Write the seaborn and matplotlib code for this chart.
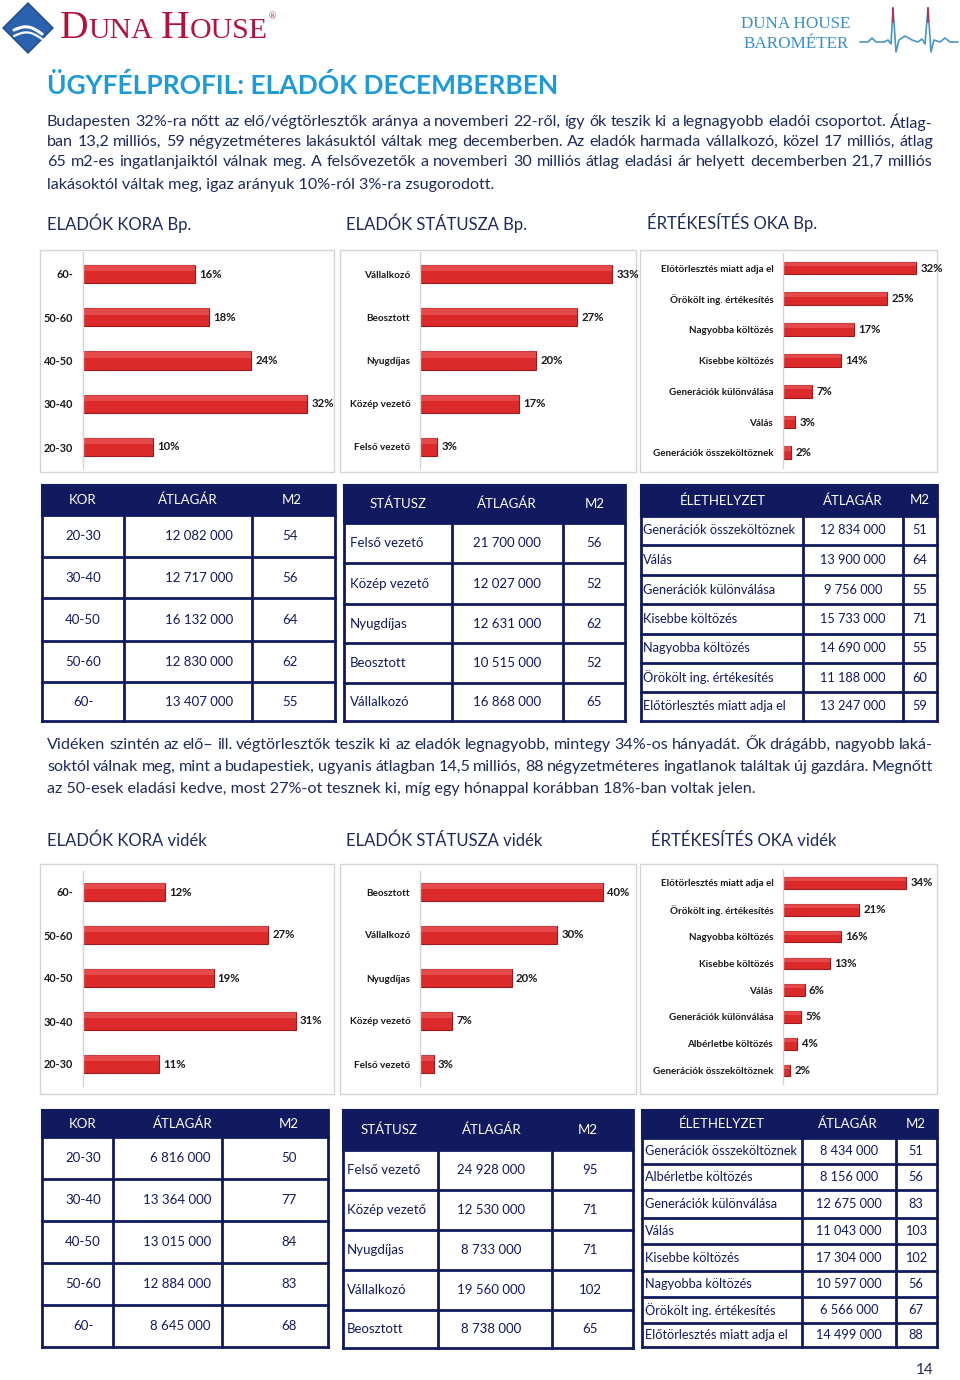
import numpy as np
import pandas as pd
import matplotlib
matplotlib.use("Agg")
import matplotlib.pyplot as plt
import seaborn as sns
from matplotlib.patches import Rectangle, Polygon

# ---- adatok: diagramok ----
kor_cats = ["60-", "50-60", "40-50", "30-40", "20-30"]
kor_bp = [16, 18, 24, 32, 10]
kor_videk = [12, 27, 19, 31, 11]

statusz_bp_cats = ["Vállalkozó", "Beosztott", "Nyugdíjas", "Közép vezető", "Felső vezető"]
statusz_bp = [33, 27, 20, 17, 3]
statusz_videk_cats = ["Beosztott", "Vállalkozó", "Nyugdíjas", "Közép vezető", "Felső vezető"]
statusz_videk = [40, 30, 20, 7, 3]

ok_bp_cats = ["Előtörlesztés miatt adja el", "Örökölt ing. értékesítés", "Nagyobba költözés",
              "Kisebbe költözés", "Generációk különválása", "Válás", "Generációk összeköltöznek"]
ok_bp = [32, 25, 17, 14, 7, 3, 2]
ok_videk_cats = ["Előtörlesztés miatt adja el", "Örökölt ing. értékesítés", "Nagyobba költözés",
                 "Kisebbe költözés", "Válás", "Generációk különválása", "Albérletbe költözés",
                 "Generációk összeköltöznek"]
ok_videk = [34, 21, 16, 13, 6, 5, 4, 2]

# ---- adatok: táblázatok ----
tab_kor_rows = ["20-30", "30-40", "40-50", "50-60", "60-"]
tab_kor_bp_ar = ["12 082 000", "12 717 000", "16 132 000", "12 830 000", "13 407 000"]
tab_kor_bp_m2 = ["54", "56", "64", "62", "55"]
tab_kor_videk_ar = ["6 816 000", "13 364 000", "13 015 000", "12 884 000", "8 645 000"]
tab_kor_videk_m2 = ["50", "77", "84", "83", "68"]

tab_stat_bp_rows = ["Felső vezető", "Közép vezető", "Nyugdíjas", "Beosztott", "Vállalkozó"]
tab_stat_bp_ar = ["21 700 000", "12 027 000", "12 631 000", "10 515 000", "16 868 000"]
tab_stat_bp_m2 = ["56", "52", "62", "52", "65"]
tab_stat_videk_rows = ["Felső vezető", "Közép vezető", "Nyugdíjas", "Vállalkozó", "Beosztott"]
tab_stat_videk_ar = ["24 928 000", "12 530 000", "8 733 000", "19 560 000", "8 738 000"]
tab_stat_videk_m2 = ["95", "71", "71", "102", "65"]

tab_elet_bp_rows = ["Generációk összeköltöznek", "Válás", "Generációk különválása", "Kisebbe költözés",
                    "Nagyobba költözés", "Örökölt ing. értékesítés", "Előtörlesztés miatt adja el"]
tab_elet_bp_ar = ["12 834 000", "13 900 000", "9 756 000", "15 733 000", "14 690 000", "11 188 000", "13 247 000"]
tab_elet_bp_m2 = ["51", "64", "55", "71", "55", "60", "59"]
tab_elet_videk_rows = ["Generációk összeköltöznek", "Albérletbe költözés", "Generációk különválása", "Válás",
                       "Kisebbe költözés", "Nagyobba költözés", "Örökölt ing. értékesítés",
                       "Előtörlesztés miatt adja el"]
tab_elet_videk_ar = ["8 434 000", "8 156 000", "12 675 000", "11 043 000", "17 304 000", "10 597 000",
                     "6 566 000", "14 499 000"]
tab_elet_videk_m2 = ["51", "56", "83", "103", "102", "56", "67", "88"]

# ---- szövegek ----
bekezdes1 = [
    "Budapesten 32%-ra nőtt az elő/végtörlesztők aránya a novemberi 22-ről, így ők teszik ki a legnagyobb eladói csoportot. Átlag-",
    "ban 13,2 milliós, 59 négyzetméteres lakásuktól váltak meg decemberben. Az eladók harmada vállalkozó, közel 17 milliós, átlag",
    "65 m2-es ingatlanjaiktól válnak meg. A felsővezetők a novemberi 30 milliós átlag eladási ár helyett decemberben 21,7 milliós",
    "lakásoktól váltak meg, igaz arányuk 10%-ról 3%-ra zsugorodott.",
]
bekezdes2 = [
    "Vidéken szintén az elő– ill. végtörlesztők teszik ki az eladók legnagyobb, mintegy 34%-os hányadát. Ők drágább, nagyobb laká-",
    "soktól válnak meg, mint a budapestiek, ugyanis átlagban 14,5 milliós, 88 négyzetméteres ingatlanok találtak új gazdára. Megnőtt",
    "az 50-esek eladási kedve, most 27%-ot tesznek ki, míg egy hónappal korábban 18%-ban voltak jelen.",
]

NAVY = "#111a5e"
TEXT = "#1e2a5c"
BAR = "#dc2a2b"
BAR_EDGE = "#9c1a1c"
BAR_LIGHT = "#f06464"
BOX = "#d4d4d4"

sns.set_style("white")
plt.rcParams["font.family"] = ["Lato", "DejaVu Sans"]

W, H = 960, 1380
fig = plt.figure(figsize=(9.6, 13.8), dpi=100)

bg = fig.add_axes([0, 0, 1, 1])
bg.set_xlim(0, W)
bg.set_ylim(H, 0)
bg.axis("off")

renderer = fig.canvas.get_renderer()


def px_axes(x, y, w, h):
    return fig.add_axes([x / W, 1 - (y + h) / H, w / W, h / H])


def text_w(s, **kw):
    t = bg.text(0, 0, s, **kw)
    w = t.get_window_extent(renderer).width
    t.remove()
    return w


def justified(lines, ys, x0, x1, size, color):
    for i, (line, y) in enumerate(zip(lines, ys)):
        if i == len(lines) - 1:
            bg.text(x0, y, line, fontsize=size, color=color, va="center")
            continue
        words = line.split(" ")
        widths = [text_w(w, fontsize=size) for w in words]
        gap = (x1 - x0 - sum(widths)) / (len(words) - 1)
        x = x0
        for w, wd in zip(words, widths):
            bg.text(x, y, w, fontsize=size, color=color, va="center")
            x += wd + gap


# ---- fejléc ----
bg.add_patch(Polygon([(28, 3), (53, 28), (28, 53), (3, 28)], closed=True,
                     facecolor="#2a62ad", edgecolor="#1c4a8a", lw=1))
t = np.linspace(0, 1, 50)
bg.plot(14 + 28 * t, 30 - 5 * np.sin(np.pi * t) + 4 * t, color="white", lw=2.2)
bg.plot(14 + 28 * t, 36 - 5 * np.sin(np.pi * t) + 3 * t, color="white", lw=1.6)

x = 60
for s, size in [("D", 28.5), ("UNA", 21.5), (" ", 21.5), ("H", 28.5), ("OUSE", 21.5)]:
    bg.text(x, 38, s, fontsize=size, color="#b3123f", family="Liberation Serif", va="baseline")
    x += text_w(s, fontsize=size, family="Liberation Serif")
bg.text(x + 1, 19, "®", fontsize=7, color="#b3123f", family="Liberation Serif", va="baseline")

bg.text(741, 24, "DUNA HOUSE", fontsize=12.3, color="#3b8fc6", family="Liberation Serif", va="center")
bg.text(744, 44, "BAROMÉTER", fontsize=12.3, color="#3b8fc6", family="Liberation Serif", va="center")
hb_x = [860, 868, 872, 876, 884, 888, 891, 893, 896, 899, 905, 912, 918, 922, 925, 928, 931, 934, 940, 945, 950, 958]
hb_y = [42, 42, 38, 42, 42, 40, 44, 8, 52, 40, 36, 40, 42, 39, 44, 8, 52, 40, 42, 38, 42, 42]
bg.plot(hb_x, hb_y, color="#4a95c4", lw=1.2)
bg.plot([893, 893], [8, 22], color="#c0304a", lw=1.4)
bg.plot([928, 928], [8, 22], color="#c0304a", lw=1.4)

bg.text(47, 86, "ÜGYFÉLPROFIL: ELADÓK DECEMBERBEN", fontsize=19, fontweight="bold",
        color="#1e9ad8", va="center")

justified(bekezdes1, [122, 142, 162, 185], 47, 933, 11.6, TEXT)
justified(bekezdes2, [745, 767, 789], 47, 933, 11.6, TEXT)

for (s, xx, yy) in [("ELADÓK KORA Bp.", 47, 223), ("ELADÓK STÁTUSZA Bp.", 346, 223),
                    ("ÉRTÉKESÍTÉS OKA Bp.", 647, 223), ("ELADÓK KORA vidék", 47, 841),
                    ("ELADÓK STÁTUSZA vidék", 346, 841), ("ÉRTÉKESÍTÉS OKA vidék", 651, 841)]:
    bg.text(xx, yy, s, fontsize=12, color=TEXT, va="center")

# diagram keretek
for (x0, y0, x1, y1) in [(40, 250, 334, 472), (340, 250, 636, 472), (640, 250, 937, 472),
                         (40, 864, 334, 1094), (340, 864, 636, 1094), (640, 864, 937, 1094)]:
    bg.add_patch(Rectangle((x0, y0), x1 - x0, y1 - y0, facecolor="none", edgecolor=BOX, lw=1))


def bar_panel(cats, vals, axis_x, y_first, step, ppu, right, cat_size, width=0.42):
    n = len(cats)
    ax = px_axes(axis_x, y_first - step / 2, right - axis_x, n * step)
    df = pd.DataFrame({"kat": cats, "ertek": vals})
    sns.barplot(data=df, x="ertek", y="kat", orient="h", color=BAR, edgecolor=BAR_EDGE,
                linewidth=0.8, width=width, saturation=1, errorbar=None, ax=ax)
    # fényesebb felső sáv a domború hatáshoz
    for p in list(ax.patches):
        ax.add_patch(Rectangle((p.get_x(), p.get_y()), p.get_width(), p.get_height() * 0.35,
                               facecolor=BAR_LIGHT, edgecolor="none", alpha=0.55))
    ax.set_xlim(0, (right - axis_x) / ppu)
    ax.set_ylim(n - 0.5, -0.5)
    ax.patch.set_alpha(0)
    for sp in ["top", "right", "bottom"]:
        ax.spines[sp].set_visible(False)
    ax.spines["left"].set_color(BOX)
    ax.spines["left"].set_linewidth(1)
    ax.set_xticks([])
    ax.set_xlabel("")
    ax.set_ylabel("")
    ax.tick_params(axis="y", length=0, pad=7)
    for lab in ax.get_yticklabels():
        lab.set_fontweight("bold")
        lab.set_fontsize(cat_size)
        lab.set_color("#1a1a1a")
    ax.bar_label(ax.containers[0], labels=[f"{v}%" for v in vals], padding=3,
                 fontsize=8.2, fontweight="bold", color="#1a1a1a")
    return ax


bar_panel(kor_cats, kor_bp, 83, 274, 43.25, 7.0, 330, 7.8)
bar_panel(statusz_bp_cats, statusz_bp, 420, 274, 43.25, 5.82, 632, 7.2)
bar_panel(ok_bp_cats, ok_bp, 783, 268, 30.8, 4.16, 935, 7.1)
bar_panel(kor_cats, kor_videk, 83, 892, 43, 6.87, 330, 7.8)
bar_panel(statusz_videk_cats, statusz_videk, 420, 892, 43, 4.58, 632, 7.2)
bar_panel(ok_videk_cats, ok_videk, 783, 883, 26.8, 3.62, 935, 7.1, width=0.44)


# ---- táblázatok ----
def draw_table(x_edges, y_edges, header, header_x, columns, col_x, col_ha, size=9.5):
    x0, x1 = x_edges[0], x_edges[-1]
    bg.add_patch(Rectangle((x0, y_edges[0]), x1 - x0, y_edges[1] - y_edges[0],
                           facecolor=NAVY, edgecolor=NAVY, lw=1.5))
    for y in y_edges[1:]:
        bg.plot([x0, x1], [y, y], color=NAVY, lw=2, solid_capstyle="projecting")
    for xx in x_edges:
        bg.plot([xx, xx], [y_edges[0], y_edges[-1]], color=NAVY, lw=2, solid_capstyle="projecting")
    yh = (y_edges[0] + y_edges[1]) / 2
    for s, hx in zip(header, header_x):
        bg.text(hx, yh, s, fontsize=9.5, color="white", ha="center", va="center")
    for col, cx, ha in zip(columns, col_x, col_ha):
        for i, s in enumerate(col):
            yc = (y_edges[i + 1] + y_edges[i + 2]) / 2
            bg.text(cx, yc, s, fontsize=size, color=NAVY, ha=ha, va="center")


draw_table([42, 124, 252, 335], [485, 515, 557, 598, 641, 682, 721],
           ["KOR", "ÁTLAGÁR", "M2"], [83, 188, 292],
           [tab_kor_rows, tab_kor_bp_ar, tab_kor_bp_m2], [83, 233, 290], ["center", "right", "center"])
draw_table([344, 452, 563, 625], [485, 523, 563, 604, 643, 683, 721],
           ["STÁTUSZ", "ÁTLAGÁR", "M2"], [398, 507, 595],
           [tab_stat_bp_rows, tab_stat_bp_ar, tab_stat_bp_m2], [350, 507, 594], ["left", "center", "center"])
draw_table([641, 803, 903, 937], [485, 516, 545, 575, 604, 634, 663, 692, 721],
           ["ÉLETHELYZET", "ÁTLAGÁR", "M2"], [723, 853, 920],
           [tab_elet_bp_rows, tab_elet_bp_ar, tab_elet_bp_m2], [643, 853, 920], ["left", "center", "center"],
           size=9.2)

draw_table([42, 113, 222, 328], [1110, 1137, 1179, 1221, 1263, 1305, 1347],
           ["KOR", "ÁTLAGÁR", "M2"], [83, 183, 289],
           [tab_kor_rows, tab_kor_videk_ar, tab_kor_videk_m2], [83, 211, 289], ["center", "right", "center"])
draw_table([343, 438, 552, 633], [1110, 1150, 1190, 1230, 1270, 1310, 1348],
           ["STÁTUSZ", "ÁTLAGÁR", "M2"], [389, 492, 588],
           [tab_stat_videk_rows, tab_stat_videk_ar, tab_stat_videk_m2], [347, 491, 590], ["left", "center", "center"])
draw_table([642, 802, 896, 937], [1110, 1138, 1164, 1190, 1218, 1244, 1271, 1297, 1323, 1347],
           ["ÉLETHELYZET", "ÁTLAGÁR", "M2"], [722, 848, 916],
           [tab_elet_videk_rows, tab_elet_videk_ar, tab_elet_videk_m2], [645, 849, 916], ["left", "center", "center"],
           size=9.2)

bg.text(925, 1370, "14", fontsize=11, color=TEXT, ha="center", va="center")

fig.savefig("out.png", dpi=100)
